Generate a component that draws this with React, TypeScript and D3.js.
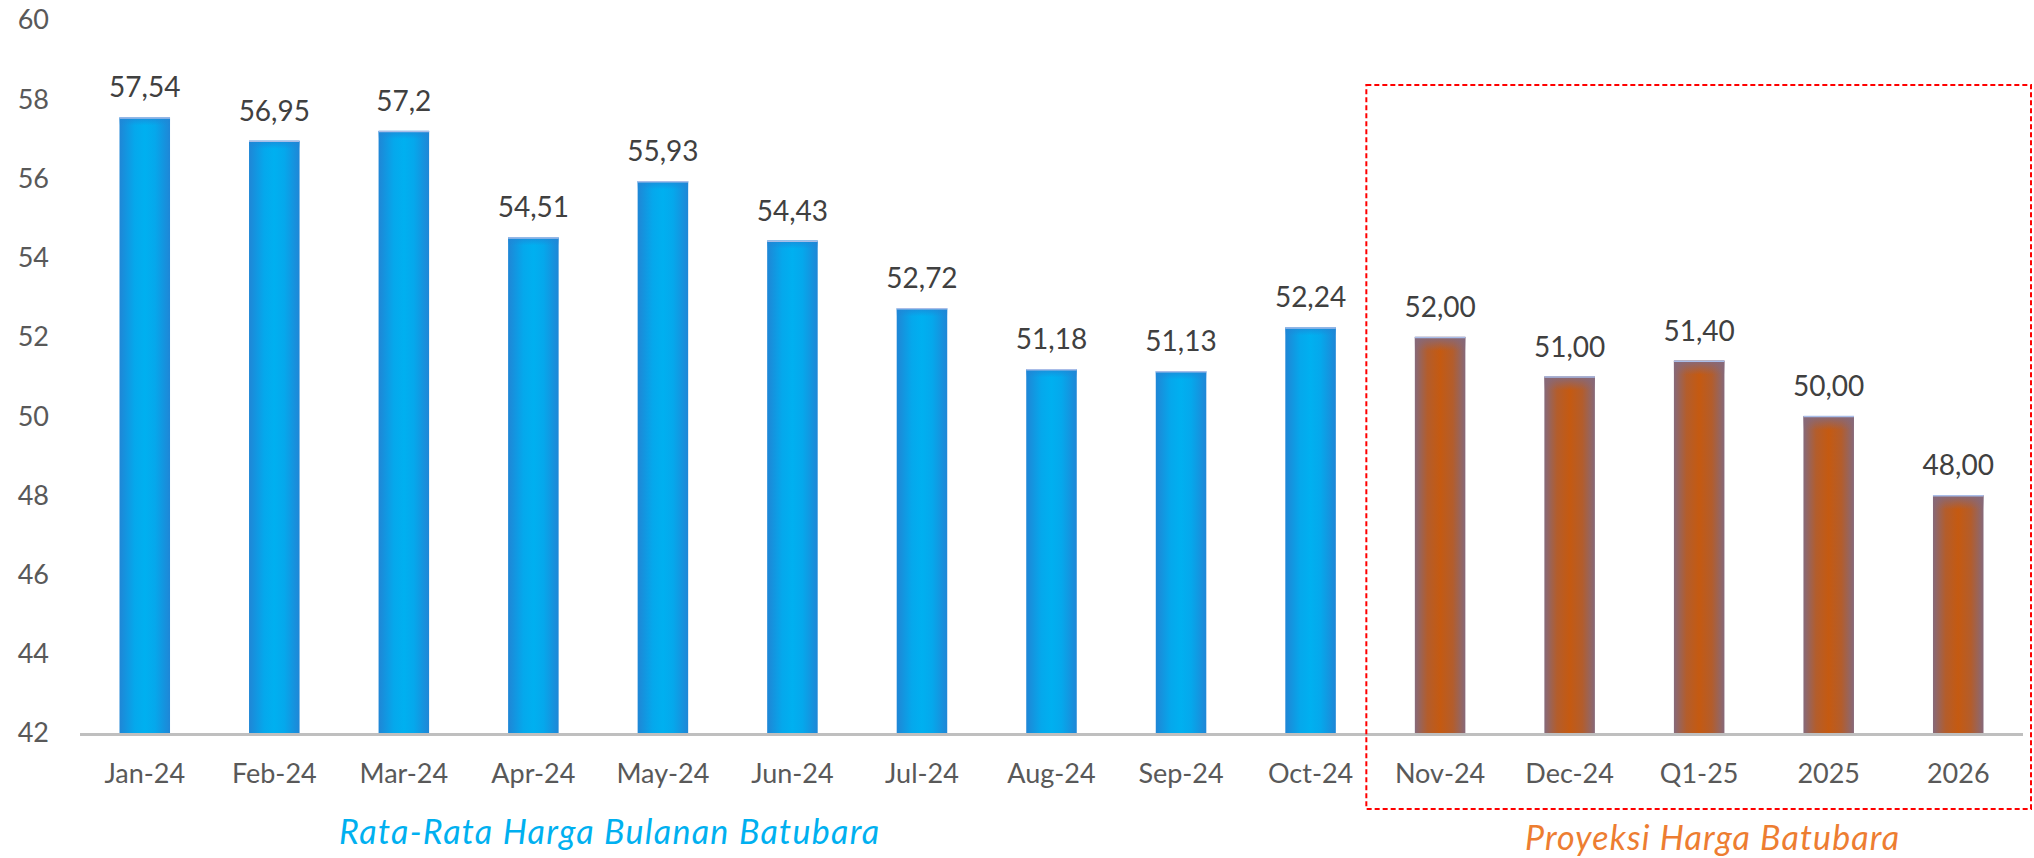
import { useEffect } from "react";
import * as d3 from "d3";

const categories = [
  "Jan-24", "Feb-24", "Mar-24", "Apr-24", "May-24", "Jun-24", "Jul-24", "Aug-24",
  "Sep-24", "Oct-24", "Nov-24", "Dec-24", "Q1-25", "2025", "2026",
];
const prices = [
  57.54, 56.95, 57.2, 54.51, 55.93, 54.43, 52.72, 51.18, 51.13, 52.24,
  52.0, 51.0, 51.4, 50.0, 48.0,
];
// first 10 are actual monthly averages, the rest projections
const isProjection = [
  false, false, false, false, false, false, false, false, false, false,
  true, true, true, true, true,
];
const yTicks = [42, 44, 46, 48, 50, 52, 54, 56, 58, 60];
const actualTitle = "Rata-Rata Harga Bulanan Batubara";
const projectionTitle = "Proyeksi Harga Batubara";

const width = 2034;
const height = 858;
const marginLeft = 80;
const marginRight = 11;
const yTop = 20;
const yBottom = 733;
const font = "Lato, 'Open Sans', sans-serif";

const App = () => {
  useEffect(() => {
    document.body.style.margin = "0";
    document.body.style.overflow = "hidden";
  }, []);

  const x = d3
    .scaleBand<string>()
    .domain(categories)
    .range([marginLeft, width - marginRight])
    .padding(0);

  const y = d3.scaleLinear().domain([42, 60]).range([yBottom, yTop]);

  const barW = x.bandwidth() * 0.39;
  const fmt = (v: number, proj: boolean) =>
    proj ? v.toFixed(2).replace(".", ",") : String(v).replace(".", ",");

  // projection box spans the projected categories
  const firstProj = categories[isProjection.indexOf(true)];
  const boxX0 = (x(firstProj) ?? 0) - 9;
  const boxX1 = width - 3;

  return (
    <svg width={width} height={height} style={{ display: "block", background: "#fff" }}>
      <defs>
        <linearGradient id="blueGrad" x1="0" x2="1" y1="0" y2="0">
          <stop offset="0" stopColor="#1f86d6" />
          <stop offset="0.3" stopColor="#05a8ec" />
          <stop offset="0.5" stopColor="#00b0f0" />
          <stop offset="0.7" stopColor="#05a8ec" />
          <stop offset="1" stopColor="#1f86d6" />
        </linearGradient>
        <linearGradient id="orangeGrad" x1="0" x2="1" y1="0" y2="0">
          <stop offset="0" stopColor="#86697a" />
          <stop offset="0.25" stopColor="#b35d2c" />
          <stop offset="0.5" stopColor="#c55a11" />
          <stop offset="0.75" stopColor="#b35d2c" />
          <stop offset="1" stopColor="#86697a" />
        </linearGradient>
        <linearGradient id="orangeTop" x1="0" x2="0" y1="0" y2="1">
          <stop offset="0" stopColor="#86697a" stopOpacity="1" />
          <stop offset="1" stopColor="#86697a" stopOpacity="0" />
        </linearGradient>
        <linearGradient id="blueTop" x1="0" x2="0" y1="0" y2="1">
          <stop offset="0" stopColor="#1f86d6" stopOpacity="0.8" />
          <stop offset="1" stopColor="#1f86d6" stopOpacity="0" />
        </linearGradient>
      </defs>

      {/* y axis labels */}
      <g fontFamily={font} fontSize={27} fill="#595959" textAnchor="end">
        {yTicks.map((t) => (
          <text key={t} x={49} y={y(t)} dy="0.35em">
            {t}
          </text>
        ))}
      </g>

      {/* bars */}
      <g>
        {categories.map((c, i) => {
          const cx = (x(c) ?? 0) + x.bandwidth() / 2;
          const top = y(prices[i]);
          const proj = isProjection[i];
          return (
            <g key={c}>
              <rect
                x={cx - barW / 2}
                y={top}
                width={barW}
                height={yBottom - top}
                fill={proj ? "url(#orangeGrad)" : "url(#blueGrad)"}
              />
              <rect
                x={cx - barW / 2}
                y={top}
                width={barW}
                height={proj ? 14 : 8}
                fill={proj ? "url(#orangeTop)" : "url(#blueTop)"}
              />
              <line
                x1={cx - barW / 2}
                x2={cx + barW / 2}
                y1={top + 0.5}
                y2={top + 0.5}
                stroke="#a9bde8"
                strokeWidth={1.5}
              />
              <text
                x={cx}
                y={top - 20}
                textAnchor="middle"
                fontFamily={font}
                fontSize={28}
                fill="#404040"
              >
                {fmt(prices[i], proj)}
              </text>
              <text
                x={cx}
                y={783}
                textAnchor="middle"
                fontFamily={font}
                fontSize={27}
                fill="#595959"
              >
                {c}
              </text>
            </g>
          );
        })}
      </g>

      {/* baseline */}
      <line
        x1={marginLeft}
        x2={width - marginRight}
        y1={yBottom + 1.5}
        y2={yBottom + 1.5}
        stroke="#bfbfbf"
        strokeWidth={3}
      />

      {/* projection box */}
      <rect
        x={boxX0}
        y={85}
        width={boxX1 - boxX0}
        height={809 - 85}
        fill="none"
        stroke="#ff0000"
        strokeWidth={2}
        strokeDasharray="5,3"
      />

      <text
        x={609}
        y={844}
        textAnchor="middle"
        fontFamily={font}
        fontStyle="italic"
        fontSize={34}
        fill="#00b0f0"
        textLength={540}
        lengthAdjust="spacing"
      >
        {actualTitle}
      </text>
      <text
        x={1712}
        y={850}
        textAnchor="middle"
        fontFamily={font}
        fontStyle="italic"
        fontSize={34}
        fill="#ed7d31"
        textLength={374}
        lengthAdjust="spacing"
      >
        {projectionTitle}
      </text>
    </svg>
  );
};

export default App;
